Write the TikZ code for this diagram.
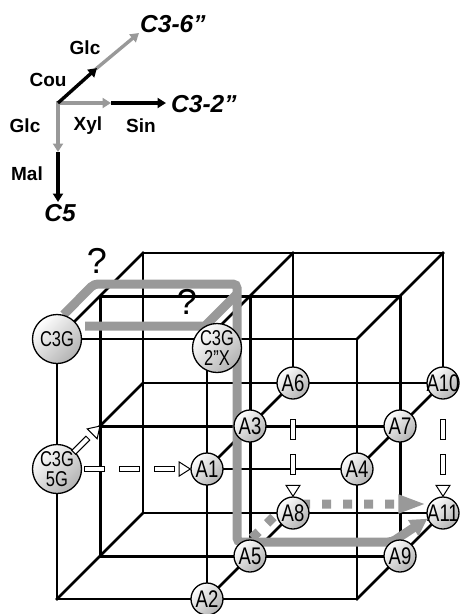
\documentclass[tikz,border=0pt]{standalone}
\usepackage{fontspec}
\setmainfont{Liberation Sans}
\usetikzlibrary{arrows.meta,decorations.markings}
\newcommand\vst[1]{\makebox[0pt]{\scalebox{1}[1.3]{#1}}}
\newcommand\wrectmk{\draw[fill=white,line width=1pt] (-10pt,-2.7pt) rectangle (10pt,2.7pt);}
\newcommand\wtrimk{\draw[fill=white,line width=1pt,line join=miter] (0pt,0pt) -- (-11pt,7pt) -- (-11pt,-7pt) -- cycle;}
\begin{document}
\begin{tikzpicture}[x=1pt,y=-1pt,
  lat/.style={line width=2.6pt, line cap=rect},
  latk/.style={line width=3.0pt, line cap=rect},
  latd/.style={line width=2.7pt, line cap=rect},
  anode/.style={circle, draw=black, line width=1.3pt, minimum size=32pt, inner sep=0pt,
     top color=white, bottom color=black!30, shading angle=45,
     font=\fontsize{18.5}{18.5}\selectfont},
  cnode/.style={anode, minimum size=49pt, font=\fontsize{16.5}{20.5}\selectfont, align=center},
  graybar/.style={draw=black!40, line width=9pt},
  openarrow/.style={decorate, decoration={markings,
     mark=between positions #1 and -20pt step 35pt with {\wrectmk},
     mark=at position 0.999 with {\wtrimk}}},
  qmark/.style={font=\fontsize{36}{36}\selectfont, inner sep=0pt},
  leg/.style={line width=3.4pt, -{Triangle[length=8.5pt,width=10pt]}},
  legk/.style={leg, draw=black},
  legg/.style={leg, draw=black!40, line cap=rect},
  lab/.style={font=\fontsize{19}{19}\selectfont\bfseries, inner sep=0pt},
  clab/.style={font=\fontsize{24.5}{24.5}\selectfont\bfseries\itshape, inner sep=0pt},
]
\useasboundingbox (0,0) rectangle (460,614);

% lattice points
\foreach \i in {0,1,2}{\foreach \j in {0,1,2}{\foreach \k in {0,1,2}{
  \coordinate (p\i\j\k) at ({57+150*\i+43*\k},{339+130*\j-43*\k});
}}}

% lattice lines: along x
\draw[lat] (p000) -- (p200);
\draw[lat] (p110) -- (p210);
\draw[lat] (p020) -- (p220);
\draw[latk] (p001) -- (p201);
\draw[latk] (p011) -- (p211);
\draw[latk] (p021) -- (p221);
\draw[lat] (p002) -- (p202);
\draw[lat] (p012) -- (p212);
\draw[lat] (p022) -- (p222);
% along y
\draw[lat] (p000) -- (p020);
\draw[lat] (p100) -- (p120);
\draw[lat] (p200) -- (p220);
\draw[latk] (p001) -- (p021);
\draw[latk] (p101) -- (p121);
\draw[latk] (p201) -- (p221);
\draw[lat] (p002) -- (p022);
\draw[lat] (p102) -- (p112);
\draw[lat] (p202) -- (p212);
% along depth
\draw[latd] (p000) -- (p002);
\draw[latd] (p011) -- (p012);
\draw[latd] (p020) -- (p022);
\draw[latd] (p100) -- (p102);
\draw[latd] (p110) -- (p112);
\draw[latd] (p120) -- (p122);
\draw[latd] (p200) -- (p202);
\draw[latd] (p210) -- (p212);
\draw[latd] (p220) -- (p222);

% invisible copies of two nodes, so the gray paths can be drawn under the nodes
\path (p000) node[cnode, opacity=0] (c3g) {\vst{C3G}};
\path (p222) node[anode, opacity=0] (a11) {\vst{A11}};

% gray paths
\coordinate (g2) at (94,284);
\coordinate (g3) at (237,284);
\coordinate (g4) at (237,542);
\coordinate (g5) at (392,542);
\draw[graybar, rounded corners=4pt, -{Triangle[length=17pt,width=18pt]}]
  (c3g.75) -- (g2) -- (g3) -- (g4) -- (g5) -- (a11.200);
\coordinate (h1) at (85,326);
\coordinate (h2) at (205,326);
\coordinate (h3) at (237,294);
\draw[graybar] (h1) -- (h2) -- (h3);
\coordinate (d1) at (252,538);
\coordinate (d2) at (287,504);
\draw[graybar, dash pattern=on 9pt off 12pt, -{Triangle[length=28pt,width=17pt]}]
  (d1) -- (d2) -- (a11.west |- d2);

% nodes
\node[cnode] (c3g) at (p000) {\vst{C3G}};
\node[cnode] (c3g2x) at ([shift={(10,9)}]p100) {\vst{C3G}\\\vst{2”X}};
\node[cnode] (c3g5g) at (p010) {\vst{C3G}\\\vst{5G}};
\node[anode] (a1) at (p110) {\vst{A1}};
\node[anode] (a2) at (p120) {\vst{A2}};
\node[anode] (a3) at (p111) {\vst{A3}};
\node[anode] (a4) at (p210) {\vst{A4}};
\node[anode] (a5) at (p121) {\vst{A5}};
\node[anode] (a6) at (p112) {\vst{A6}};
\node[anode] (a7) at (p211) {\vst{A7}};
\node[anode] (a8) at (p122) {\vst{A8}};
\node[anode] (a9) at (p221) {\vst{A9}};
\node[anode] (a10) at (p212) {\vst{A10}};
\node[anode] (a11) at (p222) {\vst{A11}};

% open dashed arrows
\path[openarrow=12pt] (c3g5g) -- (a1);
\path[openarrow=8.5pt] (c3g5g) -- (p011);
\path[openarrow=30pt] (a6) -- (a8);
\path[openarrow=30pt] (a10) -- (a11);

% question marks
\node[qmark] (q1) at (97,261) {?};
\node[qmark] (q2) at (187,302) {?};

% legend
\coordinate (o) at (58,103);
\coordinate (ur1) at (97,68);
\coordinate (ur2) at (139,33);
\coordinate (r1) at (111,103);
\coordinate (r2) at (166,103);
\coordinate (dn1) at (58,152);
\coordinate (dn2) at (58,202);
\draw[legg] (o) -- (r1);
\draw[legg] (o) -- (dn1);
\draw[legg] (ur1) -- (ur2);
\draw[legk] (o) -- (ur1);
\draw[legk] (r1) -- (r2);
\draw[legk] (dn1) -- (dn2);
\node[clab, anchor=west] (l36) at (140,24) {C3-6”};
\node[clab, anchor=west] (l32) at (171,104) {C3-2”};
\node[clab] (l5) at (60,213) {C5};
\node[lab] (lglc1) at (85,48) {Glc};
\node[lab] (lcou) at (48,80) {Cou};
\node[lab] (lglc2) at (25,126) {Glc};
\node[lab] (lxyl) at (88,126) {Xyl};
\node[lab] (lsin) at (141,126) {Sin};
\node[lab] (lmal) at (27,174) {Mal};
\end{tikzpicture}
\end{document}
